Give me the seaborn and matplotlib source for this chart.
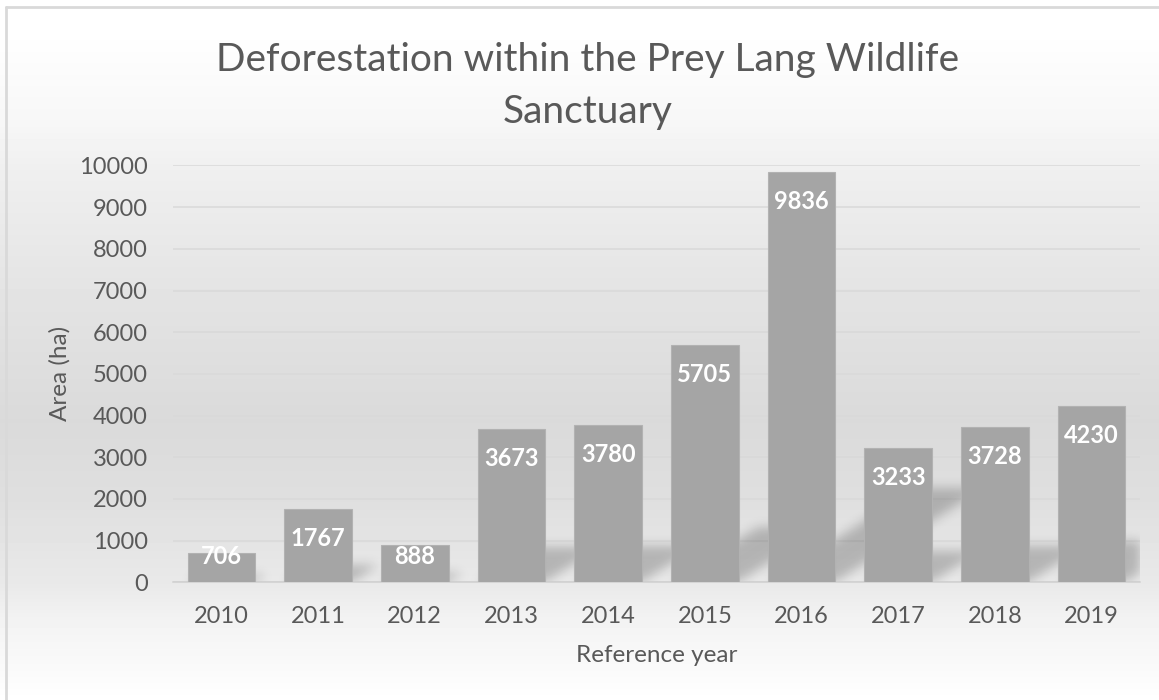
# Deforestation bar chart, Excel look
import numpy as np
import pandas as pd
import matplotlib.pyplot as plt
from matplotlib.lines import Line2D
import seaborn as sns

sns.set_style("white")
plt.rcParams['font.family'] = ['Lato', 'DejaVu Sans']

# data
years = ['2010', '2011', '2012', '2013', '2014', '2015', '2016', '2017', '2018', '2019']
area_ha = [706, 1767, 888, 3673, 3780, 5705, 9836, 3233, 3728, 4230]
y_ticks = [0, 1000, 2000, 3000, 4000, 5000, 6000, 7000, 8000, 9000, 10000]
title = 'Deforestation within the Prey Lang Wildlife\nSanctuary'
x_title = 'Reference year'
y_title = 'Area (ha)'

df = pd.DataFrame({'year': years, 'area': area_ha})

BAR = '#A5A5A5'
TXT = '#595959'
GRID = '#D9D9D9'
W_PX, H_PX = 1159, 700

fig = plt.figure(figsize=(W_PX / 100, H_PX / 100), dpi=100)

# background gradient (white -> grey -> white)
bg = fig.add_axes([0, 0, 1, 1], zorder=0)
bg.axis('off')
stops_px = [0, 40, 120, 170, 300, 420, 500, 583, 620, 670, 700]
stops_lv = [255, 254, 247, 239, 227, 218, 223, 233, 243, 250, 255]
rows = np.interp(np.arange(H_PX), stops_px, stops_lv) / 255.0
grad = np.repeat(rows[:, None], 4, axis=1)
bg.imshow(grad, cmap='gray', vmin=0, vmax=1, aspect='auto', extent=[0, 1, 0, 1])
bg.set_xlim(0, 1)
bg.set_ylim(0, 1)

# chart border (left + top visible)
fig.add_artist(Line2D([6 / W_PX, 6 / W_PX], [0, 1 - 7 / H_PX], transform=fig.transFigure, color=GRID, lw=2))
fig.add_artist(Line2D([6 / W_PX, 1], [1 - 7 / H_PX, 1 - 7 / H_PX], transform=fig.transFigure, color=GRID, lw=2))

ax_l, ax_b, ax_w, ax_h = 173 / W_PX, 1 - 582.3 / H_PX, (1140 - 173) / W_PX, (582.3 - 165.5) / H_PX
ax = fig.add_axes([ax_l, ax_b, ax_w, ax_h], zorder=1)
ax.patch.set_alpha(0)

n = len(years)
ymax = y_ticks[-1]

# soft perspective shadows behind bars
pw, ph = int(round(ax_w * W_PX)), int(round(ax_h * H_PX))
gx = -0.5 + (np.arange(pw) + 0.5) / pw * n
gy = (np.arange(ph) + 0.5) / ph * ymax
X, Y = np.meshgrid(gx, gy)
shade = np.zeros_like(X)
for i, v in enumerate(area_ha):
    hs = 0.23 * v
    shift = 0.364 * v * (ph / ymax) / (pw / n)
    s = shift * Y / hs
    m = (Y <= hs) & (X >= i - 0.35 + s) & (X <= i + 0.35 + s)
    shade[m] = 1.0
k = np.exp(-0.5 * (np.arange(-15, 16) / 5.5) ** 2)
k /= k.sum()
shade = np.apply_along_axis(lambda r: np.convolve(r, k, mode='same'), 1, shade)
shade = np.apply_along_axis(lambda c: np.convolve(c, k, mode='same'), 0, shade)
rgba = np.zeros((ph, pw, 4))
rgba[..., 3] = 0.22 * shade
ax.imshow(rgba, extent=(-0.5, n - 0.5, 0, ymax), origin='lower', aspect='auto', zorder=1.5, interpolation='bilinear')

sns.barplot(data=df, x='year', y='area', color=BAR, saturation=1, width=0.7, ax=ax,
            zorder=3, edgecolor='#B2B2B2', linewidth=0.8)

ax.set_xlim(-0.5, n - 0.5)
ax.set_ylim(0, ymax)
ax.set_yticks(y_ticks)
ax.yaxis.grid(True, color=GRID, lw=1.1, zorder=0.5)
ax.set_axisbelow(True)
for sp in ['top', 'right', 'left']:
    ax.spines[sp].set_visible(False)
ax.spines['bottom'].set_color('#D0D0D0')
ax.spines['bottom'].set_linewidth(1.1)
ax.tick_params(axis='both', length=0, labelsize=17, labelcolor=TXT)
ax.tick_params(axis='y', pad=18)
ax.tick_params(axis='x', pad=17)

ax.set_xlabel(x_title, fontsize=17.5, color=TXT, labelpad=13)
ax.set_ylabel(y_title, fontsize=17.5, color=TXT, labelpad=6)

# value labels, inside end of each bar
for i, v in enumerate(area_ha):
    ax.text(i, max(v - 890, 430), f'{v}', ha='center', va='baseline',
            color='white', fontsize=17, fontweight='bold', zorder=4)

fig.text(588 / W_PX, 1 - 86 / H_PX, title, ha='center', va='center', fontsize=28,
         color=TXT, linespacing=1.58)

fig.savefig('out.png', dpi=100)
